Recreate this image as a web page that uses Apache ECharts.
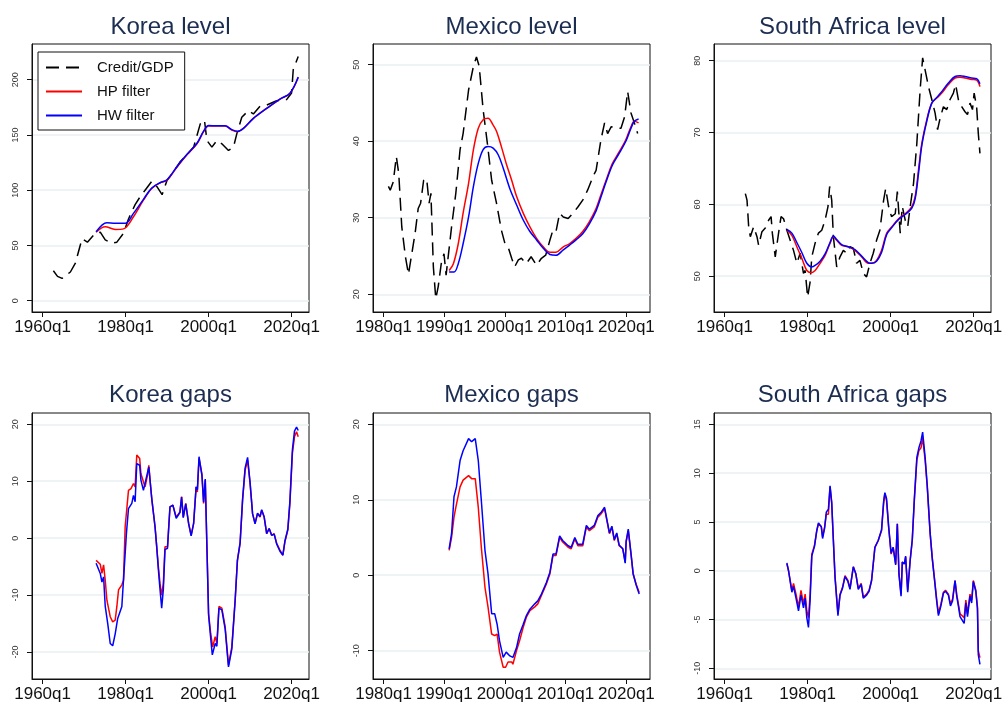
<!DOCTYPE html>
<html><head><meta charset="utf-8">
<script src="https://cdn.jsdelivr.net/npm/echarts@6/dist/echarts.min.js"></script>
<style>html,body{margin:0;padding:0;background:#fff}#c{width:1004px;height:709px}</style>
</head><body><div id="c"></div>
<script>
// ---- Data: [year, value] pairs ----
const koreaCredit = [[1962.6,27.1],[1963.6,22],[1964.7,20.2],[1966.7,26],[1967.9,34],[1969.5,56],[1970.8,53],[1972.7,61],[1973.9,62],[1975.1,55],[1976.7,52],[1977.9,53],[1979.5,61],[1980.7,74],[1982.3,87],[1983.5,94],[1984.7,100],[1986.3,108],[1987.6,103],[1988.8,96],[1990,109],[1991.6,117],[1993.2,126],[1994.8,132],[1996.4,139],[1998,160],[1999,163.5],[1999.6,145],[2000.8,139],[2002,145],[2003.2,142],[2004.8,136],[2006,139],[2006.8,151],[2008,166],[2009.6,172],[2010.8,169],[2012.4,176],[2014,177],[2016.4,181],[2018.8,182],[2020,188],[2020.4,209],[2021.6,221]];
const koreaHP = [[1972.9,62],[1975.1,67],[1977.5,64.5],[1979.5,65],[1981.9,76],[1984.3,91],[1986.3,101.6],[1988.4,106.8],[1990,109],[1992.4,121],[1994.8,132],[1997.2,142],[1998.8,153],[2000,158],[2002,158],[2004,158],[2005.6,154.4],[2007,153],[2008.4,156],[2010.8,165],[2014,174],[2017.2,182.5],[2019.6,187.6],[2021.6,202]];
const koreaHW = [[1972.9,62.4],[1975.5,70.6],[1977.5,70],[1979.9,70],[1981.9,79],[1984.3,91.7],[1986.3,102],[1988.4,107],[1990,109.5],[1992.4,121.5],[1994.8,132.5],[1997.2,142.5],[1998.8,153.5],[2000,158.5],[2002,158.3],[2004,158.3],[2005.6,154.8],[2007,153.3],[2008.4,156],[2010.8,165],[2014,174],[2017.2,182.5],[2019.6,187.8],[2021.6,202.5]];

const mexCredit = [[1980.8,34.1],[1981.1,33.6],[1981.6,34.7],[1982.1,38],[1982.5,35.8],[1983,28.8],[1983.6,24.9],[1984.1,22.6],[1984.65,25.3],[1985.2,28],[1985.7,31.2],[1986.1,31.9],[1986.6,34.9],[1987.1,35.1],[1987.5,31.9],[1987.8,33.2],[1988.2,23.6],[1988.6,19.4],[1989,21],[1989.5,24],[1989.95,25.3],[1990.3,22.5],[1990.7,25.3],[1991.2,28.8],[1991.9,33.2],[1992.6,38.9],[1993.1,41],[1994,46.7],[1994.8,49.8],[1995.3,51],[1995.75,49.8],[1996.4,44.1],[1997.1,39.7],[1997.8,34.9],[1998.6,31.9],[1999.4,28.4],[2000,26.6],[2000.5,26.2],[2001.1,24.7],[2001.6,23.6],[2002.2,24.5],[2002.7,24.7],[2003.5,24],[2004.3,24.9],[2005.2,23.8],[2006,24.7],[2006.7,25.1],[2007.4,27.1],[2007.9,28.4],[2008.4,28.2],[2009,30.6],[2009.6,30.1],[2010.4,29.9],[2011.2,30.6],[2012,31.4],[2012.8,32.3],[2013.6,33.6],[2014.5,35.4],[2015,36.2],[2015.8,40.2],[2016.4,42.4],[2016.9,41],[2017.5,41.9],[2018.3,41.7],[2019.1,41.7],[2019.7,43.2],[2020.2,46.5],[2020.75,43.7],[2021.3,42.4],[2021.85,41]];
const mexHP = [[1990.8,23.1],[1991.5,24],[1992.3,26.6],[1993.1,30.6],[1994,34.5],[1994.8,38.9],[1995.6,41.7],[1996.4,42.8],[1997.2,43],[1998.05,42.1],[1998.6,41.3],[1999.4,39.3],[2000.2,37.1],[2001.1,34.9],[2001.9,32.8],[2003,30.6],[2004.1,28.8],[2005.2,27.3],[2006.3,26.2],[2007.4,25.5],[2008.4,25.5],[2009.6,26.2],[2010.6,26.6],[2011.7,27.3],[2012.8,28.2],[2013.9,29.5],[2015,31.2],[2015.8,33],[2016.65,34.9],[2017.7,37.1],[2018.8,38.6],[2019.9,40.2],[2020.75,41.9],[2021.3,42.6],[2022,42.4]];
const mexHW = [[1990.8,22.9],[1991.6,22.9],[1992.3,24],[1993.1,26.6],[1994,30.1],[1994.8,34.1],[1995.6,37.1],[1996.4,38.9],[1997.2,39.3],[1998.05,39.1],[1998.9,38.2],[1999.7,36.5],[2000.8,33.8],[2001.9,31.7],[2003,29.7],[2004.1,28.2],[2005.2,27.1],[2006.3,26],[2007.4,25.2],[2008.4,25.1],[2009.6,25.8],[2010.6,26.4],[2011.7,27.1],[2012.8,27.9],[2013.9,29.2],[2015,30.9],[2015.8,32.7],[2016.65,34.7],[2017.7,36.9],[2018.8,38.4],[2019.9,40],[2020.75,41.7],[2021.3,42.6],[2022,42.9]];

const saCredit = [[1965,61.5],[1965.4,60.6],[1965.8,56.9],[1966.2,55.5],[1967,56.9],[1967.8,55.5],[1968.2,54.3],[1969,56.2],[1969.8,56.7],[1970.6,57.8],[1971.2,58.3],[1971.5,56],[1972.2,52.7],[1973,56],[1973.6,58.3],[1974.2,58],[1975,56.4],[1975.8,55],[1976.6,53.6],[1977.4,51.8],[1978.2,53.2],[1979,50.4],[1979.4,50.8],[1980,47.1],[1980.6,49.2],[1981,52.7],[1981.8,54.6],[1982.6,56],[1983.4,56.4],[1984.2,57.8],[1984.9,59.7],[1985.3,62.5],[1985.8,60.6],[1986.2,55.5],[1987,51.3],[1987.8,52.7],[1988.6,53.6],[1989.4,53.2],[1990.2,54.1],[1991,53.9],[1991.8,51.8],[1992.6,52.2],[1993.4,50.4],[1994.2,49.9],[1995,51.8],[1995.8,53.2],[1996.6,55],[1997.4,56.4],[1998.3,60.6],[1998.8,62.2],[1999.5,59.7],[2000.2,58.3],[2001.1,58.7],[2001.6,61.8],[2002.3,56],[2002.8,59.7],[2003.5,57.8],[2004.1,56.9],[2004.7,59.7],[2005.5,62.9],[2006.3,68.5],[2007.1,76],[2007.7,80.4],[2008.3,78.7],[2009.1,76.4],[2009.9,74.6],[2010.7,72.7],[2011.3,70.4],[2011.9,72],[2012.7,73.6],[2013.5,73.2],[2014.3,74.6],[2015.1,75.5],[2015.65,76.7],[2016.3,74.6],[2017.1,73.6],[2017.9,72.9],[2018.5,72.5],[2019.1,74.1],[2019.7,73.2],[2020.1,75.5],[2020.7,73.6],[2021.1,69.9],[2021.5,67.1]];
const saHP = [[1975,56.4],[1976.2,55.7],[1977.4,54.1],[1978.6,52.5],[1979.8,50.8],[1980.85,50.5],[1981.8,50.8],[1983,51.8],[1984.2,52.9],[1985.4,54.6],[1986.2,55.5],[1987,55],[1988.2,54.3],[1989.8,54.1],[1991.4,53.6],[1993,52.7],[1994.6,51.8],[1995.4,51.8],[1996.6,52.2],[1997.8,53.6],[1999.05,56],[2000.3,56.9],[2001.9,58],[2003.5,58.7],[2005.1,59.7],[2005.9,61.1],[2006.7,64.8],[2007.5,68.5],[2008.7,71.8],[2009.9,74.1],[2011.1,74.8],[2012.3,75.5],[2013.9,76.7],[2015.5,77.6],[2016.7,77.7],[2017.9,77.6],[2019.5,77.4],[2020.7,77.3],[2021.5,76.4]];
const saHW = [[1975,56.5],[1976.2,56],[1977.4,54.7],[1978.6,53.3],[1979.8,51.8],[1981,51.3],[1981.8,51.5],[1983,52.1],[1984.2,53.1],[1985.4,54.7],[1986.2,55.6],[1987,55.1],[1988.2,54.4],[1989.8,54.1],[1991.4,53.7],[1993,52.8],[1994.6,51.9],[1995.4,51.8],[1996.6,52.1],[1997.8,53.3],[1999.05,55.8],[2000.3,56.8],[2001.9,57.9],[2003.5,58.6],[2005.1,59.5],[2005.9,60.8],[2006.7,64.3],[2007.5,68.2],[2008.7,71.6],[2009.9,74.1],[2011.1,74.9],[2012.3,75.7],[2013.9,76.9],[2015.5,77.8],[2016.7,77.9],[2017.9,77.8],[2019.5,77.6],[2020.7,77.5],[2021.5,76.8]];

const koreaGapHP = [[1972.9,-3.9],[1973.9,-4.6],[1974.3,-6.2],[1974.7,-4.7],[1975.1,-7.4],[1975.5,-10.9],[1976.3,-13.8],[1976.9,-14.7],[1977.5,-14.4],[1977.9,-12],[1978.3,-9.1],[1979.1,-8.2],[1979.5,-7.4],[1979.9,2],[1980.7,8.4],[1981.3,8.7],[1981.9,9.6],[1982.3,9],[1982.7,14.6],[1983.4,14],[1983.7,11.3],[1984.3,9.9],[1984.7,9],[1985.3,11.1],[1985.6,12.8],[1985.9,10.2],[1986.3,7],[1987.1,2],[1987.5,-1.5],[1987.9,-5],[1988.3,-8],[1988.7,-10],[1989.1,-8],[1989.5,-1.5],[1990.1,-1.5],[1990.7,5.5],[1991.4,5.8],[1992.2,3.7],[1993.1,4.6],[1993.5,7.3],[1993.9,3.7],[1994.5,6.1],[1995.2,2.6],[1995.8,0.5],[1996.4,2.6],[1997,9],[1997.3,8.1],[1997.7,14],[1998.4,11.3],[1998.8,6.1],[1999.2,10.2],[1999.6,-1.5],[2000,-13.2],[2000.5,-16.7],[2001,-19.1],[2001.6,-17.3],[2002,-18.5],[2002.5,-12],[2003.2,-12.3],[2004,-15.6],[2004.8,-22.3],[2005.6,-19.1],[2006.4,-10.9],[2006.95,-3.9],[2007.6,-0.9],[2008.2,6.7],[2008.8,11.9],[2009.4,13.7],[2010,9.6],[2010.6,4.3],[2011.2,2.6],[2011.8,4.3],[2012.4,3.7],[2012.8,4.9],[2013.4,3.7],[2014,0.8],[2014.6,1.7],[2015.2,0.5],[2015.8,0.8],[2016.4,-0.9],[2017.2,-2.1],[2017.9,-3],[2018.4,-0.6],[2019.1,1.4],[2019.6,6.1],[2020.2,14.9],[2020.7,17.8],[2021.2,18.7],[2021.6,17.8]];
const koreaGapHW = [[1972.9,-4.4],[1973.9,-6.2],[1974.3,-7.7],[1974.7,-6.8],[1975.1,-12],[1975.7,-15],[1976.3,-18.5],[1976.9,-18.9],[1977.5,-16.8],[1978.1,-14.1],[1979.1,-12],[1979.7,-5],[1980.2,0.8],[1980.7,5.2],[1981.5,6.1],[1981.9,7.5],[1982.3,6.4],[1982.7,13.1],[1983.4,12.8],[1983.7,10.2],[1984.3,8.4],[1984.7,8.1],[1985.6,12.5],[1986.3,7],[1987.1,2],[1987.5,-1.5],[1987.9,-5.5],[1988.3,-9],[1988.7,-12.3],[1989.1,-9],[1989.5,-2],[1990.1,-1.8],[1990.7,5.5],[1991.4,5.8],[1992.2,3.5],[1993.1,4.5],[1993.5,7.2],[1993.9,3.6],[1994.5,6],[1995.2,2.5],[1995.8,0.4],[1996.4,2.6],[1997,9],[1997.3,8.5],[1997.7,14.3],[1998.4,11],[1998.8,6.3],[1999.2,10.4],[1999.6,-1.5],[2000,-13.5],[2000.5,-17.5],[2000.9,-20.5],[2001.6,-18.5],[2002,-19],[2002.5,-12.3],[2003.2,-12.6],[2004,-16],[2004.8,-22.6],[2005.6,-19.5],[2006.4,-11],[2006.95,-3.9],[2007.6,-0.8],[2008.2,6.9],[2008.8,12.3],[2009.4,14.2],[2010,9.8],[2010.6,4.3],[2011.2,2.5],[2011.8,4.4],[2012.4,3.8],[2012.8,5],[2013.4,3.7],[2014,0.8],[2014.6,1.7],[2015.2,0.5],[2015.8,0.7],[2016.4,-1],[2017.2,-2.3],[2017.9,-3],[2018.4,-0.5],[2019.1,1.6],[2019.6,6.5],[2020.2,15.5],[2020.7,18.8],[2021.2,19.5],[2021.4,19.8],[2021.6,18.9]];

const mexGapHP = [[1990.8,3.3],[1991.2,5],[1991.6,7.7],[1991.9,9],[1992.6,11.7],[1993.1,12.6],[1994,13.2],[1994.5,12.8],[1995.1,12.8],[1995.6,9],[1996.1,3.7],[1996.7,-1.6],[1997.2,-4.2],[1997.8,-7.8],[1998.3,-8],[1998.7,-7.8],[1999.1,-10.2],[1999.7,-12.2],[2000.1,-12.2],[2000.5,-11.5],[2001.1,-11.5],[2001.3,-11.8],[2001.9,-10],[2002.4,-8.7],[2003,-6.9],[2003.5,-5.6],[2004.1,-4.7],[2004.9,-4.2],[2005.4,-3.8],[2006,-2.7],[2006.8,-1.2],[2007.4,0.2],[2007.9,2.6],[2008.4,2.6],[2009,5],[2009.5,4.4],[2010.4,3.7],[2010.9,3.5],[2011.5,4.8],[2012,3.9],[2012.8,3.9],[2013.4,6.4],[2013.9,5.9],[2014.7,6.4],[2015.3,7.7],[2015.8,8.1],[2016.4,8.8],[2016.65,8.6],[2017.2,5.5],[2017.6,6.4],[2018,4.6],[2018.4,5.5],[2018.8,3.9],[2019.4,3.5],[2019.8,1.7],[2019.95,4.4],[2020.3,5.9],[2020.75,2.8],[2021.1,0.2],[2021.6,-1.2],[2022.1,-2.3]];
const mexGapHW = [[1990.8,3.5],[1991.2,5.5],[1991.6,10.4],[1992,11.7],[1992.6,15.2],[1993.1,16.5],[1994,18.1],[1994.5,17.7],[1995.1,18.1],[1995.6,15.2],[1996.1,9.9],[1996.7,3.3],[1997.2,0.2],[1997.8,-5.1],[1998.3,-5.1],[1998.7,-6.5],[1999.1,-8.7],[1999.7,-10.9],[2000.2,-10.2],[2000.8,-10.7],[2001.3,-10.9],[2001.9,-9.6],[2002.4,-7.8],[2003,-6.5],[2003.5,-5.4],[2004.1,-4.5],[2004.9,-3.8],[2005.4,-3.4],[2006,-2.5],[2006.8,-1],[2007.4,0.4],[2007.9,2.8],[2008.4,2.8],[2009,5.2],[2009.5,4.6],[2010.4,3.9],[2010.9,3.7],[2011.5,5],[2012,4.1],[2012.8,4.1],[2013.4,6.6],[2013.9,6.1],[2014.7,6.6],[2015.3,7.9],[2015.8,8.3],[2016.4,9],[2016.65,8.8],[2017.2,5.6],[2017.6,6.5],[2018,4.7],[2018.4,5.6],[2018.8,4],[2019.4,3.5],[2019.8,1.6],[2019.95,4.5],[2020.3,6.1],[2020.75,2.9],[2021.1,0.2],[2021.6,-1.3],[2022.1,-2.5]];

const saGapHP = [[1975,0.7],[1975.4,0],[1975.8,-1],[1976.2,-2],[1976.6,-1.3],[1977.2,-2.4],[1977.8,-3.7],[1978.4,-2],[1979,-3.4],[1979.4,-2.4],[1979.8,-4.1],[1980.2,-4.8],[1980.6,-2.4],[1981,1.7],[1981.65,2.6],[1982.2,4.1],[1982.6,4.8],[1983.3,4.5],[1983.6,3.5],[1984.1,4.5],[1984.5,5.8],[1985,5.8],[1985.4,8.6],[1985.8,6.9],[1986.2,3.1],[1986.6,-0.6],[1987.3,-4.4],[1987.8,-2.4],[1988.4,-1.7],[1989,-0.5],[1989.7,-1],[1990.2,-1.8],[1991,0.4],[1991.6,-0.3],[1992.2,-1.8],[1992.9,-1.3],[1993.4,-2.7],[1994.2,-2.4],[1994.8,-2],[1995.4,-1],[1996.2,2.4],[1997,3.1],[1997.4,3.3],[1997.8,4.1],[1998.3,6.9],[1998.6,7.9],[1999,7.2],[1999.5,4.5],[2000.1,1.7],[2000.6,2.4],[2001.2,0.7],[2001.6,4.8],[2002,-0.3],[2002.5,-2.4],[2002.8,0.9],[2003.3,0.7],[2003.6,1.4],[2004.1,-2],[2004.7,1.1],[2005.2,3.1],[2005.7,7.2],[2006.3,11.3],[2006.8,12.3],[2007.3,12.6],[2007.7,13.6],[2008.3,11.3],[2008.8,8.6],[2009.5,3.8],[2010,1.4],[2010.5,-0.6],[2011.1,-3],[2011.5,-4.4],[2012.1,-3.4],[2012.7,-2.2],[2013.2,-2],[2013.9,-2.4],[2014.4,-3.4],[2014.9,-2.9],[2015.5,-1],[2015.9,-2.4],[2016.3,-3.4],[2016.7,-4.4],[2017.1,-4.4],[2017.7,-4.8],[2018.1,-3],[2018.5,-4.4],[2019.1,-2.4],[2019.5,-3],[2019.9,-1],[2020.5,-2],[2020.9,-3.7],[2021.1,-8.2],[2021.5,-8.9]];
const saGapHW = [[1975,0.8],[1975.4,0],[1975.8,-1.1],[1976.2,-2.2],[1976.6,-1.6],[1977.2,-2.8],[1977.8,-4.1],[1978.4,-2.5],[1979,-3.8],[1979.4,-2.8],[1979.8,-4.8],[1980.2,-5.8],[1980.6,-3],[1981,1.5],[1981.65,2.5],[1982.2,4.1],[1982.6,4.9],[1983.3,4.5],[1983.6,3.3],[1984.1,4.4],[1984.5,6],[1985,6.3],[1985.4,8.7],[1985.8,7],[1986.2,3.1],[1986.6,-0.7],[1987.3,-4.6],[1987.8,-2.5],[1988.4,-1.8],[1989,-0.6],[1989.7,-1.1],[1990.2,-1.9],[1991,0.4],[1991.6,-0.3],[1992.2,-1.9],[1992.9,-1.4],[1993.4,-2.8],[1994.2,-2.5],[1994.8,-2.1],[1995.4,-1],[1996.2,2.4],[1997,3.1],[1997.4,3.3],[1997.8,4.2],[1998.3,7.1],[1998.6,8],[1999,7.4],[1999.5,4.6],[2000.1,1.8],[2000.6,2.4],[2001.2,0.6],[2001.6,4.8],[2002,-0.4],[2002.5,-2.6],[2002.8,0.9],[2003.3,0.7],[2003.6,1.5],[2004.1,-2.2],[2004.7,1.1],[2005.2,3.2],[2005.7,7.4],[2006.3,11.6],[2006.8,12.6],[2007.3,13.3],[2007.7,14.2],[2008.3,11.6],[2008.8,8.8],[2009.5,3.9],[2010,1.3],[2010.5,-0.7],[2011.1,-3.2],[2011.5,-4.6],[2012.1,-3.6],[2012.7,-2.3],[2013.2,-2.1],[2013.9,-2.5],[2014.4,-3.6],[2014.9,-3.1],[2015.5,-1],[2015.9,-2.6],[2016.3,-3.6],[2016.7,-4.7],[2017.1,-4.7],[2017.7,-5.4],[2018.1,-3.3],[2018.5,-4.7],[2019.1,-2.6],[2019.5,-3.3],[2019.9,-1.1],[2020.5,-2.1],[2020.9,-3.9],[2021.1,-8.6],[2021.5,-9.6]];

const titles = ['Korea level','Mexico level','South Africa level','Korea gaps','Mexico gaps','South Africa gaps'];
const xTicks = [[1960,1980,2000,2020],[1980,1990,2000,2010,2020],[1960,1980,2000,2020],[1960,1980,2000,2020],[1980,1990,2000,2010,2020],[1960,1980,2000,2020]];
const yTicks = [[0,50,100,150,200],[20,30,40,50],[50,60,70,80],[-20,-10,0,10,20],[-10,0,10,20],[-10,-5,0,5,10,15]];
const xRange = [[1957.45,2024.2],[1978.26,2023.88],[1957.45,2024.16],[1957.45,2024.2],[1978.26,2023.88],[1957.45,2024.16]];
const yRange = [[-10.2,232.3],[17.68,52.71],[45.02,82.33],[-24.74,21.98],[-13.76,21.5],[-11.09,16.16]];
const seriesData = [
  {credit: koreaCredit, hp: koreaHP, hw: koreaHW},
  {credit: mexCredit, hp: mexHP, hw: mexHW},
  {credit: saCredit, hp: saHP, hw: saHW},
  {hp: koreaGapHP, hw: koreaGapHW},
  {hp: mexGapHP, hw: mexGapHW},
  {hp: saGapHP, hw: saGapHW}
];

// ---- Layout ----
const lefts = [32, 373, 714];
const tops = [44, 413];
const W = 277, Hs = [268, 266];

const chart = echarts.init(document.getElementById('c'), null, {renderer: 'canvas'});
const grids = [], xAxes = [], yAxes = [], series = [], graphics = [];
const font = 'Liberation Sans, Arial, sans-serif';
for (let i = 0; i < 6; i++) {
  const r = Math.floor(i / 3), c = i % 3;
  grids.push({left: lefts[c], top: tops[r], width: W, height: Hs[r], show: true,
    borderColor: '#111', borderWidth: 1, backgroundColor: '#fff', containLabel: false, outerBoundsMode: 'none'});
  xAxes.push({type: 'value', gridIndex: i, min: xRange[i][0], max: xRange[i][1], position: 'bottom',
    axisLine: {show: true, onZero: false, lineStyle: {color: '#111', width: 1}},
    axisTick: {show: true, length: 5, inside: false, lineStyle: {color: '#111', width: 1}, customValues: xTicks[i]},
    axisLabel: {customValues: xTicks[i], formatter: v => v + 'q1', fontSize: 17, color: '#111',
      fontFamily: font, margin: 7, hideOverlap: false},
    splitLine: {show: false}});
  yAxes.push({type: 'value', gridIndex: i, min: yRange[i][0], max: yRange[i][1], position: 'left',
    axisLine: {show: true, onZero: false, lineStyle: {color: '#111', width: 1}},
    axisTick: {show: true, length: 5, inside: false, lineStyle: {color: '#111', width: 1}, customValues: yTicks[i]},
    axisLabel: {customValues: yTicks[i], rotate: 90, fontSize: 9, color: '#333',
      fontFamily: font, margin: 12},
    splitLine: {show: true, lineStyle: {color: '#e8f0f2', width: 1.5}}});
  const d = seriesData[i];
  if (d.credit) {
    series.push({name: 'Credit/GDP', type: 'line', xAxisIndex: i, yAxisIndex: i, data: d.credit,
      showSymbol: false, symbol: 'none', lineStyle: {color: '#000', width: 1.5, type: [13, 7]}, itemStyle: {color: '#000'}, z: 3});
  }
  const sm = i < 3 ? 0.35 : false;
  series.push({name: 'HP filter', type: 'line', xAxisIndex: i, yAxisIndex: i, data: d.hp, smooth: sm,
    showSymbol: false, symbol: 'none', lineStyle: {color: '#ff0000', width: 1.5}, itemStyle: {color: '#ff0000'}, z: 4});
  series.push({name: 'HW filter', type: 'line', xAxisIndex: i, yAxisIndex: i, data: d.hw, smooth: sm,
    showSymbol: false, symbol: 'none', lineStyle: {color: '#0000ff', width: 1.5}, itemStyle: {color: '#0000ff'}, z: 5});
  graphics.push({type: 'text', x: lefts[c] + W / 2, y: r === 0 ? 27 : 395,
    style: {text: titles[i], fontSize: 24, fill: '#1c2d52', align: 'center', verticalAlign: 'middle', fontFamily: font}});
}

chart.setOption({
  animation: false,
  backgroundColor: '#fff',
  grid: grids, xAxis: xAxes, yAxis: yAxes, series: series, graphic: graphics,
  legend: {data: ['Credit/GDP', 'HP filter', 'HW filter'], orient: 'vertical', left: 38, top: 52,
    padding: [8, 11, 7, 7], itemWidth: 36, itemHeight: 14, itemGap: 9,
    itemStyle: {opacity: 0},
    borderColor: '#111', borderWidth: 1, backgroundColor: '#fff', selectedMode: false,
    textStyle: {fontSize: 15, color: '#111', fontFamily: font, padding: [0, 0, 0, 10]}, z: 10}
});
</script></body></html>
